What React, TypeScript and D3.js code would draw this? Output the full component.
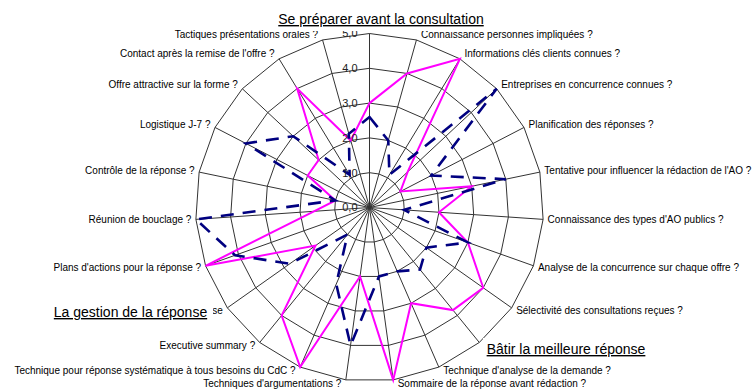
import React from 'react';
import * as d3 from 'd3';

// axes, clockwise from the top; the labels of axes 0 and 9 are hidden under a
// section title in the original and only the last letters of axis 15 show
const categories = [
  '',
  'Connaissance personnes impliquées ?',
  'Informations clés clients connues ?',
  'Entreprises en concurrence connues ?',
  'Planification des réponses ?',
  "Tentative pour influencer la rédaction de l'AO ?",
  "Connaissance des types d'AO publics ?",
  "Analyse de la concurrence sur chaque offre ?",
  'Sélectivité des consultations reçues ?',
  '',
  "Technique d'analyse de la demande ?",
  'Sommaire de la réponse avant rédaction ?',
  "Techniques d'argumentations ?",
  'Technique pour réponse systématique à tous besoins du CdC ?',
  'Executive summary ?',
  'se',
  "Plans d'actions pour la réponse ?",
  'Réunion de bouclage ?',
  'Contrôle de la réponse ?',
  'Logistique J-7 ?',
  'Offre attractive sur la forme ?',
  "Contact après la remise de l'offre ?",
  'Tactiques présentations orales ?',
];

const seriesPink = [3, 4, 5, 1.5, 1, 3, 2, 3, 4, 3.8, 3, 5, 2, 5, 4, 1.9, 5, 1.6, 1, 2, 2, 4, 2];
const seriesNavy = [2.6, 2, 1.1, 5, 2, 4, 1, 3, 2, 2.3, 2, 2, 4, 2.4, 1, 2.8, 4.1, 5, 1, 4, 3, 1.1, 2.2];

const ticks = [0, 1, 2, 3, 4, 5];

const sectionTitles = [
  { text: 'Se préparer avant la consultation', x: 381, y: 24, box: [285, 5, 222, 26] },
  { text: 'La gestion de la réponse', x: 130.5, y: 317, box: [45, 300, 168, 23] },
  { text: 'Bâtir la meilleure réponse', x: 566, y: 354, box: [483, 338, 170, 23] },
];

const width = 756;
const height = 389;
const cx = 369.5;
const cy = 207.5;
const R = 174;
const font = 'Liberation Sans, Arial, sans-serif';

const comma = d3.formatLocale({ decimal: ',', thousands: ' ', grouping: [3], currency: ['', ' €'] }).format('.1f');

export default function App() {
  const n = categories.length;
  const r = d3.scaleLinear().domain([0, 5]).range([0, R]);
  const angle = d3.scaleLinear().domain([0, n]).range([0, 2 * Math.PI]);

  const ring = (v: number) =>
    d3.lineRadial<string>()
      .angle((_, i) => angle(i))
      .radius(() => r(v))
      .curve(d3.curveLinearClosed)(categories);

  const seriesPath = (vals: number[]) =>
    d3.lineRadial<number>()
      .angle((_, i) => angle(i))
      .radius(d => r(d))
      .curve(d3.curveLinearClosed)(vals);

  return (
    <svg width={width} height={height} style={{ position: 'absolute', left: 0, top: 0, background: '#fff' }}>
      <g transform={`translate(${cx},${cy})`}>
        {/* grid */}
        {ticks.slice(1).map(t => (
          <path key={t} d={ring(t) || ''} fill="none" stroke="#333" strokeWidth={1} />
        ))}
        {categories.map((c, i) => {
          const [x, y] = d3.pointRadial(angle(i), R);
          return <line key={i} x1={0} y1={0} x2={x} y2={y} stroke="#333" strokeWidth={1} />;
        })}

        {/* category labels */}
        {categories.map((c, i) => {
          if (!c) return null;
          const a = angle(i);
          const [x, y] = d3.pointRadial(a, R);
          const s = Math.sin(a);
          const co = Math.cos(a);
          const anchor = Math.abs(s) < 0.01 ? 'middle' : s > 0 ? 'start' : 'end';
          const dx = Math.abs(s) < 0.01 ? 0 : s > 0 ? 4.5 : -4.5;
          const dy = co > 0 ? -6 * co : -4 * co;
          return (
            <text key={i} x={x + dx} y={y + dy} dy="0.35em" textAnchor={anchor}
              fontFamily={font} fontSize={10} fill="#000">{c}</text>
          );
        })}

        {/* series */}
        <path d={seriesPath(seriesPink) || ''} fill="none" stroke="#ff00ff" strokeWidth={2} />
        <path d={seriesPath(seriesNavy) || ''} fill="none" stroke="#000080" strokeWidth={2.6}
          strokeDasharray="13 9" />

        {/* value axis labels */}
        {ticks.map(t => (
          <text key={t} x={-12} y={-r(t)} dy="0.35em" textAnchor="end"
            fontFamily={font} fontSize={11} fill="#222">{comma(t)}</text>
        ))}
      </g>

      {sectionTitles.map(s => (
        <g key={s.text}>
          <rect x={s.box[0]} y={s.box[1]} width={s.box[2]} height={s.box[3]} fill="#fff" />
          <text x={s.x} y={s.y} textAnchor="middle" fontFamily={font} fontSize={14} fill="#000"
            textDecoration="underline">{s.text}</text>
        </g>
      ))}
    </svg>
  );
}
